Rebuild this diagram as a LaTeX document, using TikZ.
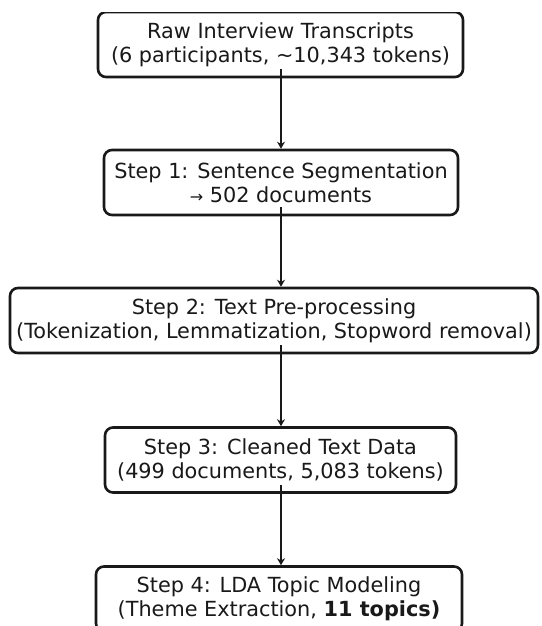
\documentclass[tikz,border=0pt]{standalone}
\usepackage{fontspec}
\setmainfont{DejaVu Sans}
\usepackage{tikz}
\usetikzlibrary{arrows.meta}
\definecolor{ink}{RGB}{25,25,25}
\tikzset{
  stagebox/.style={draw=ink, line width=2.6pt, rounded corners=8pt, fill=white,
    align=center, inner sep=0pt, minimum height=65pt, text=ink,
    font=\fontsize{20.8}{24}\selectfont},
  flow/.style={-{Stealth[length=7pt,width=8pt]}, draw=ink, line width=2pt}
}
\begin{document}
\begin{tikzpicture}[x=1pt,y=-1pt]
    \useasboundingbox (0,0) rectangle (541,626);
    \begin{scope}
    \clip (0,13) rectangle (541,626);
    \node[stagebox,minimum width=365pt] (raw) at (280.5,44.5)
      {Raw Interview Transcripts\\(6 participants, \textasciitilde10,343 tokens)};
    \node[stagebox,minimum width=354pt] (seg) at (281,182.5)
      {Step 1: Sentence Segmentation\\{\fontsize{16}{24}\selectfont →} 502 documents};
    \node[stagebox,minimum width=528pt] (prep) at (274,320.5)
      {Step 2: Text Pre-processing\\(Tokenization, Lemmatization, Stopword removal)};
    \node[stagebox,minimum width=351pt] (clean) at (280.5,460)
      {Step 3: Cleaned Text Data\\(499 documents, 5,083 tokens)};
    \node[stagebox,minimum width=366pt] (lda) at (279,599)
      {Step 4: LDA Topic Modeling\\(Theme Extraction, \textbf{11 topics)}};
    % connectors along one vertical line
    \coordinate (spine) at (281,0);
    \draw[flow] ([yshift=9pt]spine |- raw.south) -- (spine |- seg.north);
    \draw[flow] ([yshift=9pt]spine |- seg.south) -- (spine |- prep.north);
    \draw[flow] ([yshift=9pt]spine |- prep.south) -- (spine |- clean.north);
    \draw[flow] ([yshift=9pt]spine |- clean.south) -- (spine |- lda.north);
    \end{scope}
  \end{tikzpicture}
\end{document}
